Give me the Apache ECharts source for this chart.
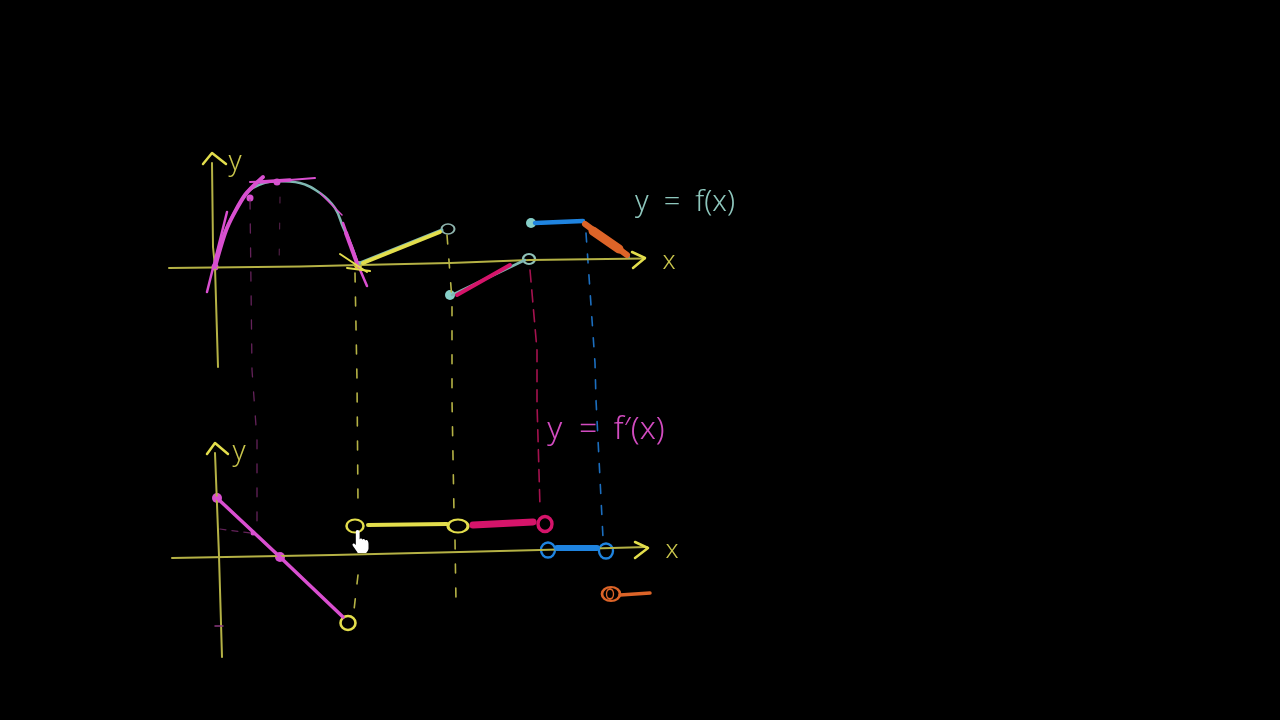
<!DOCTYPE html>
<html>
<head>
<meta charset="utf-8">
<style>html,body{margin:0;padding:0;background:#000}#c{width:1280px;height:720px}</style>
<script src="https://cdn.jsdelivr.net/npm/echarts@6/dist/echarts.min.js"></script>
</head>
<body>
<div id="c"></div>
<script>
// Values, in graph units (x right, y up, origin where the two axes cross).
// --- upper graph: y = f(x)
const fCurve = [[0,0],[0.3,1.7],[1.2,4],[2.5,6.4],[3.8,7.9],[6.2,8.6],[8.5,8.4],[10.5,7.4],[12,5.9],[12.8,4],[13.7,2],[14.3,0.2]];
const fAxisY = [[-0.3,10.4],[-0.2,2],[0,0],[0.3,-10]];
const fAxisYHead = [[-1.2,10.3],[-0.3,11.4],[1.1,10.3]];
const fAxisX = [[-4.6,-0.1],[8.5,0.05],[14.5,0.2],[23.5,0.4],[31.5,0.7],[43,0.85]];
const fAxisXHead = [[41.7,1.5],[43,0.9],[41.8,-0.1]];
const tangentA = [[-0.8,-2.5],[1.2,5.5]];
const tangentB = [[0,0],[1.2,3.9],[3,7.2],[4.8,9]];
const tangentC = [[3.5,8.5],[6.2,8.6],[10,8.9]];
const tangentCCore = [[4.5,8.5],[7.5,8.7]];
const tangentD = [[10.5,7.4],[12.7,5.2]];
const tangentE = [[12.8,4.4],[14.3,0.2],[15.2,-1.9]];
const tangentECore = [[13.1,3.4],[14.2,0.4]];
const tangentDots = [[0,0],[3.5,6.9],[6.2,8.5]];
const cuspMarkA = [[12.5,1.3],[15.2,-0.5]];
const cuspMarkB = [[13.2,-0.1],[15.5,-0.4]];
const cuspDot = [[14.3,0.2]];
const riseTeal = [[14.5,0.4],[22.7,3.7]];
const riseYellow = [[14.8,0.4],[22.5,3.5]];
const riseEnd = [[23.3,3.8]];
const pinkTeal = [[23.7,-2.8],[31,0.7]];
const pinkSeg = [[24.2,-2.8],[29.5,0.2]];
const pinkStart = [[23.5,-2.8]];
const pinkEnd = [[31.4,0.8]];
const blueStart = [[31.6,4.4]];
const blueSeg = [[32,4.4],[36.8,4.6]];
const orangeTeal = [[37,4.3],[41.4,1]];
const orangeSeg = [[37,4.3],[41.2,1.2]];
const orangeCore = [[37.8,3.6],[40.4,1.8]];
// --- dashed drop lines (upper graph's units, running down to the lower graph)
const guideMagentaA = [[3.5,6.7],[3.7,-10.3],[4.2,-17.3],[4.2,-26.3]];
const guideMagentaB = [[6.5,7],[6.4,-0.6]];
const guideYellowA = [[14,-0.6],[14.2,-11.3],[14.3,-23.6]];
const guideYellowA2 = [[14.3,-30.8],[13.9,-34.3]];
const guideYellowB = [[23.2,3.2],[23.7,-3.3],[23.7,-13.3],[23.9,-24.6]];
const guideYellowB2 = [[24,-27.3],[24.1,-33.5]];
const guideCrimson = [[31.5,-0.3],[32.2,-8.3],[32.2,-13.6],[32.5,-24]];
const guideBlue = [[37.1,3.4],[38,-9.6],[38.1,-13.3],[38.8,-27.1]];
// --- lower graph: y = f'(x)
const dAxisY = [[-0.4,10.3],[0,0],[0.3,-10.1]];
const dAxisYHead = [[-1.2,10.2],[-0.4,11.3],[0.9,10.2]];
const dAxisX = [[-4.7,-0.2],[11.4,0.1],[24.1,0.4],[32.1,0.6],[42.8,0.9]];
const dAxisXHead = [[41.6,1.4],[42.9,0.8],[41.6,-0.2]];
const dLine = [[-0.2,5.8],[6.1,-0.1],[12.4,-6.1]];
const dLineDots = [[-0.2,5.8],[6.1,-0.1]];
const dSmallDot = [[3.4,2.3]];
const dFaintA = [[0.1,2.7],[3.1,2.3]];
const dFaintB = [[-0.4,-7],[0.4,-7]];
const dYellowOpenLow = [[12.9,-6.7]];
const dYellowOpenLeft = [[13.6,3]];
const dYellowOpenRight = [[23.9,3]];
const dYellowSeg = [[14.9,3.1],[22.8,3.2]];
const dCrimsonSeg = [[25.4,3.1],[31.4,3.4]];
const dCrimsonOpen = [[32.6,3.2]];
const dBlueOpen = [[32.9,0.6],[38.7,0.5]];
const dBlueSeg = [[33.8,0.8],[37.8,0.8]];
const dOrangeOpen = [[39.2,-3.8]];
const dOrangeInner = [[39.1,-3.8]];
const dOrangeSeg = [[40.1,-3.9],[43.1,-3.7]];
const cursorAt = [[14.15,1.45]];
// --- texts
const fLabels = [{value:[2,10.5],t:'y',c:'#c9c54c',s:28},{value:[45.4,0.5],t:'x',c:'#c9c54c',s:26},{value:[47,6.4],t:'y  =  f(x)',c:'#8ec7bd',s:29}];
const dLabels = [{value:[2,10.4],t:'y',c:'#c9c54c',s:28},{value:[45.3,0.5],t:'x',c:'#c9c54c',s:26},{value:[38.7,12.6],t:"y  =  f\u2032(x)",c:'#d24bc0',s:32}];

const OLIVE='#b5b245', YEL='#e3de4c', TEAL='#7fb8b2', MAG='#d94fd0', CRIM='#d5146a', BLUE='#1f84e0', ORG='#dd6428';
const series=[];
function stroke(g,data,color,width,extra){
  series.push({type:'line',xAxisIndex:g,yAxisIndex:g,data:data,symbol:'none',clip:false,silent:true,
    lineStyle:{color:color,width:width,cap:'round',join:'round',type:(extra&&extra.dash)||'solid',opacity:(extra&&extra.op)||1},
    smooth:(extra&&extra.smooth)||false});
}
function dots(g,data,color,size){
  series.push({type:'scatter',xAxisIndex:g,yAxisIndex:g,data:data,symbol:'circle',symbolSize:size,clip:false,silent:true,itemStyle:{color:color,opacity:1}});
}
function rings(g,data,color,size,bw){
  series.push({type:'scatter',xAxisIndex:g,yAxisIndex:g,data:data,symbol:'circle',symbolSize:size,clip:false,silent:true,
    itemStyle:{color:'rgba(0,0,0,0)',borderColor:color,borderWidth:bw,opacity:1}});
}
function texts(g,data){
  series.push({type:'scatter',xAxisIndex:g,yAxisIndex:g,symbolSize:0,clip:false,silent:true,
    itemStyle:{opacity:1},
    data:data.map(d=>({value:d.value,label:{show:true,position:'inside',formatter:d.t,color:d.c,fontSize:d.s,opacity:1,
      fontFamily:'"Noto Sans"',fontWeight:300}}))});
}
const dash=[9,15];
// drop lines
stroke(0,guideMagentaA,'#7d2a70',1.3,{dash:dash,op:.8});
stroke(0,guideMagentaB,'#6d2a60',1.2,{dash:[6,20],op:.7});
stroke(0,guideYellowA,OLIVE,1.6,{dash:dash});
stroke(0,guideYellowA2,OLIVE,1.6,{dash:dash});
stroke(0,guideYellowB,OLIVE,1.6,{dash:dash});
stroke(0,guideYellowB2,OLIVE,1.6,{dash:dash});
stroke(0,guideCrimson,'#a5124f',1.6,{dash:[12,8]});
stroke(0,guideBlue,'#1c6fc0',1.6,{dash:[9,12]});
// upper graph
stroke(0,fAxisY,OLIVE,2);
stroke(0,fAxisYHead,YEL,2.5);
stroke(0,fAxisX,OLIVE,2);
stroke(0,fAxisXHead,YEL,2.5);
stroke(0,fCurve,TEAL,2.5,{smooth:.4});
stroke(0,tangentA,MAG,2.5);
stroke(0,tangentB,MAG,4,{smooth:.25});
stroke(0,tangentC,MAG,2);
stroke(0,tangentCCore,MAG,3.5);
stroke(0,tangentD,MAG,1.5);
stroke(0,tangentE,MAG,2.5);
stroke(0,tangentECore,MAG,4);
dots(0,tangentDots,MAG,7);
stroke(0,cuspMarkA,YEL,2);
stroke(0,cuspMarkB,YEL,2);
dots(0,cuspDot,'#e8c040',8);
stroke(0,riseTeal,TEAL,3);
stroke(0,riseYellow,YEL,4);
rings(0,riseEnd,'#8fb5ae',[13,10],1.8);
stroke(0,pinkTeal,TEAL,2.5);
stroke(0,pinkSeg,CRIM,4);
dots(0,pinkStart,'#86cfc8',10);
rings(0,pinkEnd,'#8fc2b8',[12,10],2.2);
stroke(0,blueSeg,BLUE,4.5);
dots(0,blueStart,'#86cfc8',10);
stroke(0,orangeTeal,TEAL,2);
stroke(0,orangeSeg,ORG,6);
stroke(0,orangeCore,ORG,9);
texts(0,fLabels);
// lower graph
stroke(1,dAxisY,OLIVE,2);
stroke(1,dAxisYHead,YEL,2.5);
stroke(1,dAxisX,OLIVE,2);
stroke(1,dAxisXHead,YEL,2.5);
stroke(1,dFaintA,'#7d2a70',1.2,{dash:[6,6],op:.8});
stroke(1,dFaintB,'#8d3a80',1.5);
stroke(1,dLine,MAG,3.5);
dots(1,dLineDots,MAG,10);
dots(1,dSmallDot,MAG,5);
rings(1,dYellowOpenLow,YEL,[15,14],2.5);
rings(1,dYellowOpenLeft,YEL,[17,13],2.2);
rings(1,dYellowOpenRight,YEL,[20,13],2.5);
stroke(1,dYellowSeg,YEL,4);
stroke(1,dCrimsonSeg,CRIM,7);
rings(1,dCrimsonOpen,CRIM,[14,15],3.5);
stroke(1,dBlueSeg,BLUE,6);
rings(1,dBlueOpen,BLUE,[14,15],2.4);
stroke(1,dOrangeSeg,ORG,3.5);
rings(1,dOrangeOpen,ORG,[18,14],2.4);
rings(1,dOrangeInner,ORG,[7,10],1.6);
series.push({type:'scatter',xAxisIndex:1,yAxisIndex:1,data:cursorAt,clip:false,silent:true,
  symbol:'path://M5.5 0C7 0 8 1 8 2.5V10.6C8.3 9.3 10.6 9.3 11 11C11.3 9.8 13.6 9.8 14 12C14.4 11 16.4 11.2 17 13C17.4 14 17.5 15 17.5 16V21C17.5 23 16 25 15 26H6C5 24 3.5 22 1.5 19C0.5 17.5 0 16 1 15.5C2 15 3 15.8 4 17V2.5C4 1 4.5 0 5.5 0Z',
  symbolSize:[16,23],itemStyle:{color:'#fff',opacity:1}});
texts(1,dLabels);

const chart=echarts.init(document.getElementById('c'),null,{renderer:'canvas'});
const ax=(i,min,max)=>({gridIndex:i,type:'value',min:min,max:max,show:false});
chart.setOption({
  animation:false,backgroundColor:'#000',
  grid:[{left:145,top:137,width:600,height:260},{left:149,top:426,width:600,height:260}],
  xAxis:[ax(0,-7,53),ax(1,-7,53)],
  yAxis:[ax(0,-13,13),ax(1,-13,13)],
  series:series
});
</script>
</body>
</html>
